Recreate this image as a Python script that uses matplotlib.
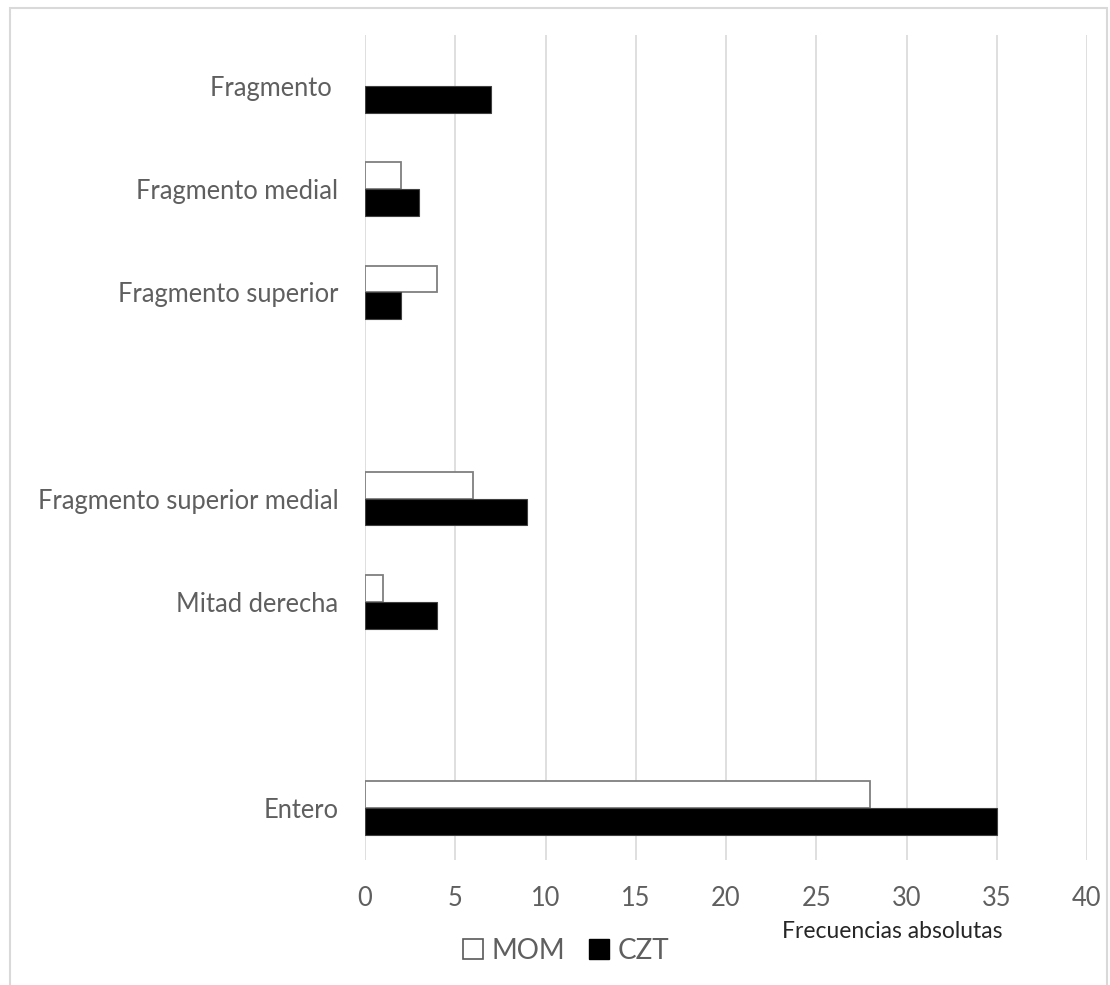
import matplotlib
matplotlib.use("Agg")
import matplotlib.pyplot as plt
from matplotlib.patches import Patch, Rectangle
import numpy as np

categories = ["Fragmento ", "Fragmento medial", "Fragmento superior", "",
              "Fragmento superior medial", "Mitad derecha", "", "Entero"]
mom = [0, 2, 4, 0, 6, 1, 0, 28]
czt = [7, 3, 2, 0, 9, 4, 0, 35]
xticks = [0, 5, 10, 15, 20, 25, 30, 35, 40]

plt.rcParams['font.family'] = ['Lato', 'DejaVu Sans']
grey = '#5f5f5f'

fig = plt.figure(figsize=(11.1, 9.85), dpi=100)
ax = fig.add_axes([365/1110, 1-859.5/985, (1087-365)/1110, (859.5-34.5)/985])

y = np.arange(len(categories))
h = 0.26
b1 = ax.barh(y - h/2, mom, height=h, color='white', edgecolor='#7f7f7f', linewidth=1.3, zorder=3)
b2 = ax.barh(y + h/2, czt, height=h, color='black', edgecolor='#404040', linewidth=0.8, zorder=3)
for bar, v in zip(b1, mom):
    if v == 0:
        bar.set_linewidth(0)
for bar, v in zip(b2, czt):
    if v == 0:
        bar.set_linewidth(0)

ax.set_ylim(len(categories) - 0.5, -0.5)
ax.set_yticks(y)
ax.set_yticklabels(categories, fontsize=18.4, color=grey)
ax.set_xlim(0, 40)
ax.set_xticks(xticks)
ax.set_xticklabels([str(t) for t in xticks], fontsize=18.4, color=grey)
ax.tick_params(axis='both', length=0, pad=19)
ax.grid(axis='x', color='#d9d9d9', linewidth=1.2, zorder=0)
ax.set_axisbelow(True)
for s in ax.spines.values():
    s.set_visible(False)

fig.text(892/1110, 1-932/985, "Frecuencias absolutas", fontsize=16.5, color='#262626',
         ha='center', va='center')

handles = [Patch(facecolor='white', edgecolor='#595959', linewidth=1.2, label='MOM'),
           Patch(facecolor='black', edgecolor='black', label='CZT')]
fig.legend(handles=handles, loc='center', bbox_to_anchor=(566/1110, 1-951/985), ncol=2,
           frameon=False, prop={'size': 20}, labelcolor=grey,
           handlelength=0.72, handleheight=0.72,
           handletextpad=0.32, columnspacing=0.83)

fig.patches.append(Rectangle((10/1110, -0.01), (1107-10)/1110, 1.01 - 8/985,
                             transform=fig.transFigure, fill=False, edgecolor='#d9d9d9',
                             linewidth=1.5))

fig.savefig("out.png", dpi=100)
